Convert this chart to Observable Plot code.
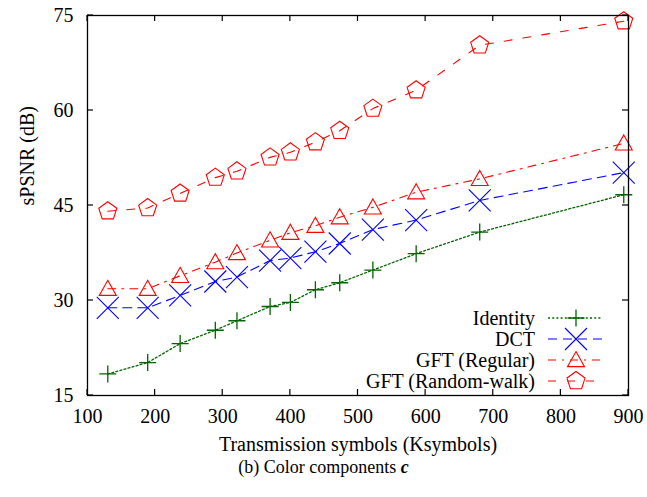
<!DOCTYPE html>
<html>
<head>
<meta charset="utf-8">
<script src="https://cdn.jsdelivr.net/npm/d3@7"></script>
<script src="https://cdn.jsdelivr.net/npm/@observablehq/plot@0.6"></script>
<style>
  body { margin: 0; background: #fff; }
  #chart { width: 647px; height: 456px; }
  .caption {
    font-family: "Liberation Serif", "Times New Roman", serif;
    font-size: 18px;
    line-height: 22px;
    text-align: center;
    color: #000;
  }
  .caption b { font-style: italic; }
</style>
</head>
<body>
<div id="chart"></div>
<div class="caption">(b) Color components <b>c</b></div>
<script>
// Transmission symbols (Ksymbols) shared by all four transforms
const symbolsK = [130, 189, 237, 289, 321, 370, 400, 437, 473, 522, 586, 680, 893];

// sPSNR (dB) per transform
const identity      = [18.4, 20.2, 23.2, 25.3, 26.8, 29.05, 29.7, 31.7, 32.8, 34.8, 37.4, 40.8, 46.7];
const dct           = [28.85, 28.85, 30.8, 33.0, 33.7, 36.3, 36.7, 37.7, 39.0, 41.2, 42.7, 45.8, 50.2];
const gftRegular    = [31.85, 31.85, 33.9, 36.05, 37.5, 39.5, 40.7, 41.8, 43.15, 44.7, 47.1, 49.2, 54.8];
const gftRandomWalk = [44.1, 44.6, 46.9, 49.4, 50.4, 52.6, 53.4, 55.0, 56.8, 60.3, 63.2, 70.3, 74.1];

const seriesNames = ["Identity", "DCT", "GFT (Regular)", "GFT (Random-walk)"];
const seriesValues = [identity, dct, gftRegular, gftRandomWalk];

const xTicks = [100, 200, 300, 400, 500, 600, 700, 800, 900];
const yTicks = [15, 30, 45, 60, 75];

// Hollow gnuplot-style point shapes (size = π r²)
const rad = size => Math.sqrt(size / Math.PI);
const plusSym = { draw(c, size) { const r = rad(size); c.moveTo(-r, 0); c.lineTo(r, 0); c.moveTo(0, -r); c.lineTo(0, r); } };
const timesSym = { draw(c, size) { const r = rad(size); c.moveTo(-r, -r); c.lineTo(r, r); c.moveTo(-r, r); c.lineTo(r, -r); } };
const triangleSym = { draw(c, size) { const r = rad(size); c.moveTo(0, -r); c.lineTo(r, r * 0.78); c.lineTo(-r, r * 0.78); c.closePath(); } };
const pentagonSym = { draw(c, size) {
  const r = rad(size);
  for (let i = 0; i < 5; i++) {
    const a = -Math.PI / 2 + i * 2 * Math.PI / 5;
    const px = r * Math.cos(a), py = r * Math.sin(a);
    if (i === 0) c.moveTo(px, py); else c.lineTo(px, py);
  }
  c.closePath();
} };

const styles = [
  { color: "#006400", dash: "2,2.2", width: 1.3, symbol: plusSym, r: 8.5 },
  { color: "#0000ff", dash: "9,6", width: 1.1, symbol: timesSym, r: 11 },
  { color: "#ff0000", dash: "8,6,2,6", width: 1.1, symbol: triangleSym, r: 8.5 },
  { color: "#ff0000", dash: "8,11", width: 1.1, symbol: pentagonSym, r: 9.5 }
];

const rows = seriesNames.flatMap((name, i) =>
  symbolsK.map((k, j) => ({ series: name, k, value: seriesValues[i][j] })));

const serif = "Liberation Serif, Times New Roman, serif";
const fs = 20;

// Inward ticks on all four sides of the frame
function frameTicks(index, scales, values, dim) {
  const g = d3.create("svg:g").attr("stroke", "black").attr("stroke-width", 1.2);
  const top = dim.marginTop, bottom = dim.height - dim.marginBottom;
  const left = dim.marginLeft, right = dim.width - dim.marginRight;
  const len = 6;
  for (const t of xTicks) {
    const x = scales.x(t);
    g.append("line").attr("x1", x).attr("x2", x).attr("y1", bottom).attr("y2", bottom - len);
    g.append("line").attr("x1", x).attr("x2", x).attr("y1", top).attr("y2", top + len);
  }
  for (const t of yTicks) {
    const y = scales.y(t);
    g.append("line").attr("y1", y).attr("y2", y).attr("x1", left).attr("x2", left + len);
    g.append("line").attr("y1", y).attr("y2", y).attr("x1", right).attr("x2", right - len);
  }
  return g.node();
}

// Key in the lower-right corner: right-aligned name, line sample, point
function legend(index, scales, values, dim) {
  const g = d3.create("svg:g");
  const right = dim.width - dim.marginRight;
  const bottom = dim.height - dim.marginBottom;
  const textX = right - 93;
  const lineX1 = right - 80, lineX2 = right - 26, markX = right - 52;
  seriesNames.forEach((name, i) => {
    const s = styles[i];
    const y = bottom - 77 + i * 21;
    g.append("text")
      .attr("x", textX).attr("y", y)
      .attr("text-anchor", "end").attr("dy", "0.35em")
      .attr("font-family", serif).attr("font-size", fs).attr("fill", "black")
      .text(name);
    g.append("line")
      .attr("x1", lineX1).attr("x2", lineX2).attr("y1", y).attr("y2", y)
      .attr("stroke", s.color).attr("stroke-width", s.width)
      .attr("stroke-dasharray", s.dash);
    g.append("path")
      .attr("transform", `translate(${markX},${y})`)
      .attr("d", d3.symbol(s.symbol, Math.PI * s.r * s.r)())
      .attr("fill", "none").attr("stroke", s.color).attr("stroke-width", s.width);
  });
  return g.node();
}

const chart = Plot.plot({
  width: 647,
  height: 456,
  marginLeft: 87,
  marginRight: 19,
  marginTop: 15,
  marginBottom: 61,
  style: { fontFamily: serif, fontSize: fs + "px", color: "black", background: "white" },
  x: { domain: [100, 900], label: null },
  y: { domain: [15, 75], label: null },
  marks: [
    ...seriesNames.map((name, i) =>
      Plot.line(rows.filter(d => d.series === name), {
        x: "k", y: "value",
        stroke: styles[i].color,
        strokeWidth: styles[i].width,
        strokeDasharray: styles[i].dash
      })),
    ...seriesNames.map((name, i) =>
      Plot.dot(rows.filter(d => d.series === name), {
        x: "k", y: "value",
        symbol: styles[i].symbol,
        r: styles[i].r,
        fill: "none",
        stroke: styles[i].color,
        strokeWidth: styles[i].width
      })),
    Plot.frame({ stroke: "black", strokeWidth: 1.3 }),
    frameTicks,
    Plot.axisX({ ticks: xTicks, tickSize: 0, tickPadding: 13, fontSize: fs, label: null, tickFormat: d => String(d) }),
    Plot.axisY({ ticks: yTicks, tickSize: 0, tickPadding: 14, fontSize: fs, label: null, tickFormat: d => String(d) }),
    Plot.text(["Transmission symbols (Ksymbols)"], {
      frameAnchor: "bottom", dy: 49, lineAnchor: "middle", fontSize: fs, fill: "black"
    }),
    Plot.text(["sPSNR (dB)"], {
      frameAnchor: "left", dx: -60, rotate: -90, lineAnchor: "middle", fontSize: fs, fill: "black"
    }),
    legend
  ]
});

document.getElementById("chart").appendChild(chart);
</script>
</body>
</html>
